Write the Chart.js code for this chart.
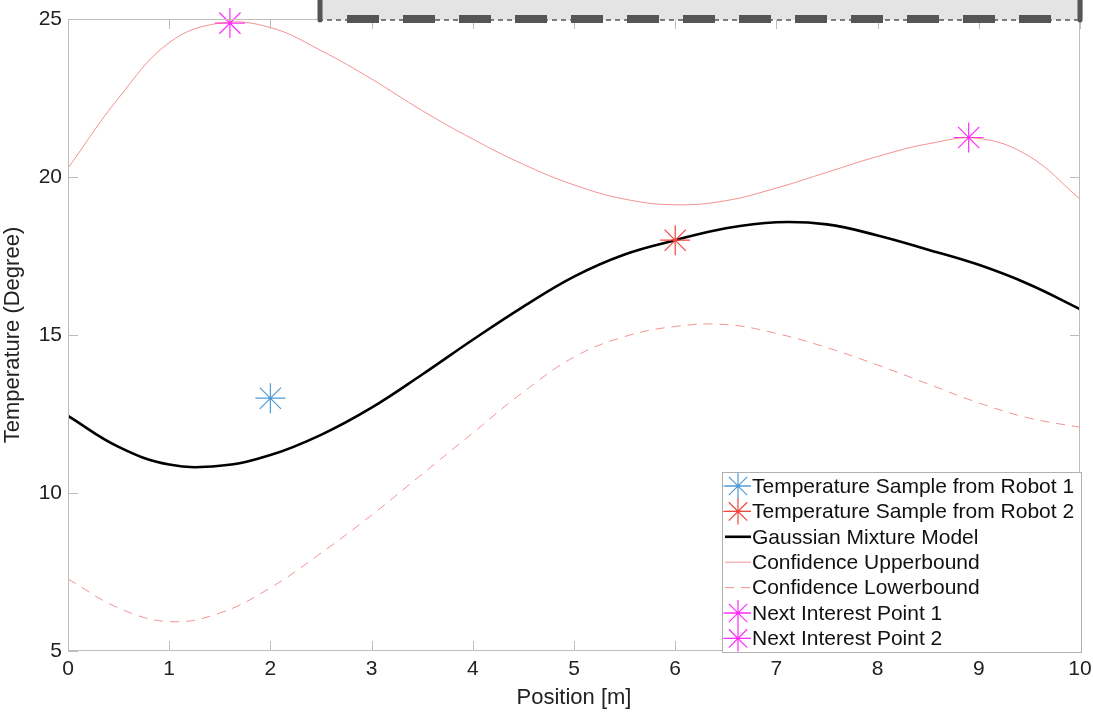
<!DOCTYPE html>
<html>
<head>
<meta charset="utf-8">
<script src="https://cdn.jsdelivr.net/npm/chart.js@4"></script>
<style>
  html, body { margin: 0; padding: 0; background: #fff; }
  #wrap { width: 1093px; height: 715px; position: relative; }
</style>
</head>
<body>
<div id="wrap"><canvas id="grafica"></canvas></div>
<script>
/* ==================
    DATOS
================== */

// posiciones donde se leyeron las curvas
const xPos = [0, 0.5, 1, 1.5, 2, 2.5, 3, 3.5, 4, 4.5, 5, 5.5, 6, 6.5, 7, 7.5, 8, 8.5, 9, 9.5, 10];
const gmm = [12.44, 11.46, 10.9, 10.86, 11.2, 11.84, 12.7, 13.75, 14.85, 15.9, 16.85, 17.55, 18.0, 18.38, 18.57, 18.5, 18.15, 17.7, 17.22, 16.6, 15.82];
const upper = [20.28, 22.5, 24.25, 24.87, 24.73, 24.0, 23.1, 22.1, 21.2, 20.4, 19.75, 19.3, 19.12, 19.25, 19.65, 20.15, 20.65, 21.05, 21.22, 20.65, 19.3];
const lower = [7.28, 6.36, 5.93, 6.2, 7.0, 8.1, 9.3, 10.6, 11.9, 13.2, 14.3, 14.95, 15.27, 15.33, 15.05, 14.6, 14.05, 13.45, 12.85, 12.37, 12.08];

const robot1X = [2], robot1Y = [13];
const robot2X = [6], robot2Y = [18];
const next1X = [1.6], next1Y = [24.87];
const next2X = [8.9], next2Y = [21.25];

const xTicks = [0, 1, 2, 3, 4, 5, 6, 7, 8, 9, 10];
const yTicks = [5, 10, 15, 20, 25];

const pts = (xs, ys) => xs.map((x, i) => ({ x: x, y: ys[i] }));

const FONT = "'Liberation Sans', Arial, Helvetica, sans-serif";
const AXIS = '#bdbdbd';
const AZUL = '#4f9bd6';
const ROJO = '#f0463c';
const MAGENTA = '#ff2cff';
const ROSA = 'rgba(240,110,110,0.75)';

/* ==================
    PLUGINS
================== */

// caja de ejes con marcas hacia adentro (estilo matlab)
const cajaEjes = {
    id: 'cajaEjes',
    afterDatasetsDraw(chart) {
        const { ctx, chartArea: a, scales } = chart;
        ctx.save();
        ctx.strokeStyle = AXIS;
        ctx.lineWidth = 1;
        ctx.strokeRect(a.left + 0.5, a.top + 0.5, a.right - a.left - 1, a.bottom - a.top - 1);
        ctx.beginPath();
        xTicks.forEach(v => {
            const p = Math.round(scales.x.getPixelForValue(v)) + 0.5;
            ctx.moveTo(p, a.bottom); ctx.lineTo(p, a.bottom - 10);
            ctx.moveTo(p, a.top); ctx.lineTo(p, a.top + 10);
        });
        yTicks.forEach(v => {
            const p = Math.round(scales.y.getPixelForValue(v)) + 0.5;
            ctx.moveTo(a.left, p); ctx.lineTo(a.left + 10, p);
            ctx.moveTo(a.right, p); ctx.lineTo(a.right - 10, p);
        });
        ctx.stroke();
        ctx.restore();
    }
};

// recuadro gris cortado arriba
const recuadro = {
    id: 'recuadro',
    afterDraw(chart) {
        const ctx = chart.ctx;
        const x0 = 318, x1 = 1083, yb = 20;
        ctx.save();
        ctx.fillStyle = '#e4e4e4';
        ctx.fillRect(x0, 0, x1 - x0, yb);
        ctx.strokeStyle = '#555';
        ctx.lineCap = 'round';
        ctx.lineWidth = 5;
        ctx.beginPath();
        ctx.moveTo(x0 + 2, 0); ctx.lineTo(x0 + 2, yb);
        ctx.moveTo(x1 - 3, 0); ctx.lineTo(x1 - 3, yb);
        ctx.stroke();
        ctx.lineCap = 'butt';
        ctx.lineWidth = 1.5;
        ctx.setLineDash([5, 4]);
        ctx.beginPath();
        ctx.moveTo(x0, yb); ctx.lineTo(x1, yb);
        ctx.stroke();
        ctx.lineWidth = 8;
        ctx.setLineDash([32, 24]);
        ctx.beginPath();
        ctx.moveTo(x0 + 29, yb - 1); ctx.lineTo(x1 - 8, yb - 1);
        ctx.stroke();
        ctx.restore();
    }
};

function estrella(ctx, color, x, y, r) {
    ctx.save();
    ctx.strokeStyle = color;
    ctx.lineWidth = 1.2;
    ctx.beginPath();
    for (let k = 0; k < 4; k++) {
        const ang = k * Math.PI / 4;
        ctx.moveTo(x - r * Math.cos(ang), y - r * Math.sin(ang));
        ctx.lineTo(x + r * Math.cos(ang), y + r * Math.sin(ang));
    }
    ctx.stroke();
    ctx.fillStyle = color;
    ctx.beginPath();
    ctx.arc(x, y, 1.5, 0, Math.PI * 2);
    ctx.fill();
    ctx.restore();
}

// leyenda dentro del area, abajo a la derecha
const leyenda = {
    id: 'leyenda',
    afterDraw(chart) {
        const ctx = chart.ctx;
        const bx = 722, by = 472, bw = 359, bh = 180;
        ctx.save();
        ctx.fillStyle = '#fff';
        ctx.fillRect(bx, by, bw, bh);
        ctx.strokeStyle = '#b0b0b0';
        ctx.lineWidth = 1;
        ctx.strokeRect(bx + 0.5, by + 0.5, bw, bh);
        ctx.font = '21px ' + FONT;
        ctx.textBaseline = 'middle';
        chart.data.datasets.forEach((ds, i) => {
            const cy = by + 14 + i * 25.4;
            const l0 = bx + 3, l1 = bx + 29, cx = (l0 + l1) / 2;
            if (ds.showLine) {
                ctx.save();
                ctx.strokeStyle = ds.borderColor;
                ctx.lineWidth = ds.borderWidth;
                ctx.setLineDash(ds.borderDash || []);
                ctx.beginPath();
                ctx.moveTo(l0, cy); ctx.lineTo(l1, cy);
                ctx.stroke();
                ctx.restore();
            } else {
                ctx.save();
                ctx.strokeStyle = ds.borderColor;
                ctx.lineWidth = 1;
                ctx.beginPath();
                ctx.moveTo(l0 - 2, cy); ctx.lineTo(l1, cy);
                ctx.stroke();
                ctx.restore();
                estrella(ctx, ds.borderColor, cx, cy, 13);
            }
            ctx.fillStyle = '#111';
            ctx.fillText(ds.label, bx + 30, cy + 1);
        });
        ctx.restore();
    }
};

// punto central de los asteriscos
const centros = {
    id: 'centros',
    afterDatasetsDraw(chart) {
        const ctx = chart.ctx;
        chart.data.datasets.forEach((ds, i) => {
            if (ds.showLine) return;
            chart.getDatasetMeta(i).data.forEach(p => {
                ctx.save();
                ctx.fillStyle = ds.borderColor;
                ctx.beginPath();
                ctx.arc(p.x, p.y, 1.6, 0, Math.PI * 2);
                ctx.fill();
                ctx.restore();
            });
        });
    }
};

/* ==================
    GRAFICA
================== */

const marcador = (label, xs, ys, color) => ({
    label: label,
    data: pts(xs, ys),
    showLine: false,
    pointStyle: 'star',
    pointRadius: 15,
    pointBorderWidth: 1.2,
    borderColor: color,
    backgroundColor: color,
    clip: false
});

const curva = (label, ys, color, width, dash) => ({
    label: label,
    data: pts(xPos, ys),
    showLine: true,
    borderColor: color,
    borderWidth: width,
    borderDash: dash,
    pointRadius: 0,
    tension: 0.4,
    fill: false
});

const ctxG = document.getElementById('grafica').getContext('2d');

new Chart(ctxG, {
    type: 'scatter',
    data: {
        datasets: [
            marcador('Temperature Sample from Robot 1', robot1X, robot1Y, AZUL),
            marcador('Temperature Sample from Robot 2', robot2X, robot2Y, ROJO),
            curva('Gaussian Mixture Model', gmm, '#000', 2.6, []),
            curva('Confidence Upperbound', upper, ROSA, 1, []),
            curva('Confidence Lowerbound', lower, ROSA, 1, [9, 7]),
            marcador('Next Interest Point 1', next1X, next1Y, MAGENTA),
            marcador('Next Interest Point 2', next2X, next2Y, MAGENTA)
        ]
    },
    options: {
        responsive: true,
        maintainAspectRatio: false,
        animation: false,
        events: [],
        layout: { autoPadding: false, padding: { top: 19, right: 13, left: 0, bottom: 0 } },
        plugins: {
            legend: { display: false },
            tooltip: { enabled: false }
        },
        scales: {
            x: {
                type: 'linear',
                min: 0, max: 10,
                afterFit: s => {
                    s.height = 64;
                    // que la etiqueta "10" no empuje el borde derecho
                    s.getPadding = () => ({ left: 0, right: 0, top: 0, bottom: 0 });
                },
                afterBuildTicks: s => { s.ticks = xTicks.map(v => ({ value: v })); },
                grid: { display: false, drawTicks: false },
                border: { display: false },
                ticks: { color: '#222', font: { family: FONT, size: 21 }, padding: 6, maxRotation: 0 },
                title: { display: true, text: 'Position [m]', color: '#222', font: { family: FONT, size: 22 }, padding: { top: 0, bottom: 4 } }
            },
            y: {
                type: 'linear',
                min: 5, max: 25,
                afterFit: s => {
                    s.width = 68;
                    s.getPadding = () => ({ left: 0, right: 0, top: 0, bottom: 0 });
                },
                afterBuildTicks: s => { s.ticks = yTicks.map(v => ({ value: v })); },
                grid: { display: false, drawTicks: false },
                border: { display: false },
                ticks: { color: '#222', font: { family: FONT, size: 21 }, padding: 6 },
                title: { display: true, text: 'Temperature (Degree)', color: '#222', font: { family: FONT, size: 22 }, padding: { top: 0, bottom: 2 } }
            }
        }
    },
    plugins: [cajaEjes, centros, recuadro, leyenda]
});
</script>
</body>
</html>
